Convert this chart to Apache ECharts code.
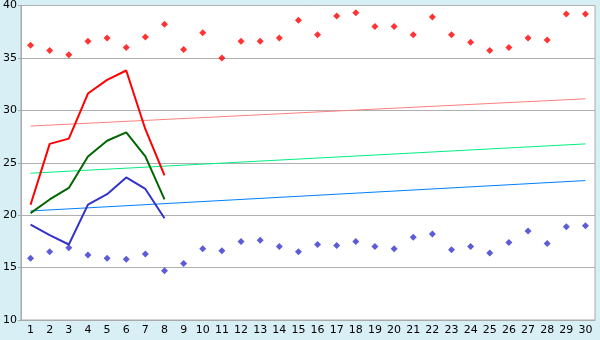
<!DOCTYPE html>
<html>
<head>
<meta charset="utf-8">
<script src="https://cdn.jsdelivr.net/npm/echarts@6/dist/echarts.min.js"></script>
<style>
  html, body { margin: 0; padding: 0; background: #d9eff6; }
  #chart { width: 600px; height: 340px; }
</style>
</head>
<body>
<div id="chart"></div>
<script>
// 日期 1..30
var days = [];
for (var i = 1; i <= 30; i++) days.push(String(i));

// 上方/下方散点
var highPts = [36.2, 35.7, 35.3, 36.6, 36.9, 36.0, 37.0, 38.2, 35.8, 37.4,
               35.0, 36.6, 36.6, 36.9, 38.6, 37.2, 39.0, 39.3, 38.0, 38.0,
               37.2, 38.9, 37.2, 36.5, 35.7, 36.0, 36.9, 36.7, 39.2, 39.2];
var lowPts = [15.9, 16.5, 16.9, 16.2, 15.9, 15.8, 16.3, 14.7, 15.4, 16.8,
              16.6, 17.5, 17.6, 17.0, 16.5, 17.2, 17.1, 17.5, 17.0, 16.8,
              17.9, 18.2, 16.7, 17.0, 16.4, 17.4, 18.5, 17.3, 18.9, 19.0];

// 前8天的三条折线
var redLine = [21.0, 26.8, 27.3, 31.6, 32.9, 33.8, 28.2, 23.8];
var greenLine = [20.2, 21.5, 22.6, 25.6, 27.1, 27.9, 25.6, 21.5];
var blueLine = [19.1, 18.1, 17.2, 21.0, 22.0, 23.6, 22.5, 19.7];

// 趋势线 (首尾两点)
var redTrend = [28.5, 31.1];
var greenTrend = [24.0, 26.8];
var blueTrend = [20.4, 23.3];

function ends(pair) {
    var arr = days.map(function () { return null; });
    arr[0] = pair[0];
    arr[arr.length - 1] = pair[1];
    return arr;
}

var myChart = echarts.init(document.getElementById('chart'));
var option = {
    backgroundColor: '#d9eff6',
    animation: false,
    textStyle: { fontFamily: 'DejaVu Sans', fontSize: 11 },
    grid: {
        left: 20, right: 5, top: 5, bottom: 20,
        show: true, backgroundColor: '#ffffff', borderColor: '#aaaaaa', borderWidth: 1
    },
    xAxis: {
        type: 'category',
        data: days,
        boundaryGap: true,
        axisLine: { lineStyle: { color: '#aaaaaa' } },
        axisTick: { alignWithLabel: true, length: 4, lineStyle: { color: '#333333' } },
        axisLabel: { color: '#000000', fontSize: 11, margin: 5, interval: 0 },
        splitLine: { show: false }
    },
    yAxis: {
        type: 'value',
        min: 10, max: 40, interval: 5,
        axisLine: { show: true, lineStyle: { color: '#aaaaaa' } },
        axisTick: { show: true, length: 3, lineStyle: { color: '#aaaaaa' } },
        axisLabel: { color: '#000000', fontSize: 11, margin: 4 },
        splitLine: { lineStyle: { color: '#b0b0b0', width: 1 } }
    },
    series: [
        {
            type: 'line', data: ends(redTrend), connectNulls: true, showSymbol: false,
            lineStyle: { color: '#ff8080', width: 1 }
        },
        {
            type: 'line', data: ends(greenTrend), connectNulls: true, showSymbol: false,
            lineStyle: { color: '#00f080', width: 1 }
        },
        {
            type: 'line', data: ends(blueTrend), connectNulls: true, showSymbol: false,
            lineStyle: { color: '#0080ff', width: 1 }
        },
        {
            type: 'line', data: redLine, showSymbol: false,
            lineStyle: { color: '#ff0000', width: 2 }
        },
        {
            type: 'line', data: greenLine, showSymbol: false,
            lineStyle: { color: '#006600', width: 2 }
        },
        {
            type: 'line', data: blueLine, showSymbol: false,
            lineStyle: { color: '#3333cc', width: 2 }
        },
        {
            type: 'scatter', data: highPts, symbol: 'diamond', symbolSize: 7,
            itemStyle: { color: '#ff0000' }
        },
        {
            type: 'scatter', data: lowPts, symbol: 'diamond', symbolSize: 7,
            itemStyle: { color: '#3333cc' }
        }
    ]
};
myChart.setOption(option);
</script>
</body>
</html>
